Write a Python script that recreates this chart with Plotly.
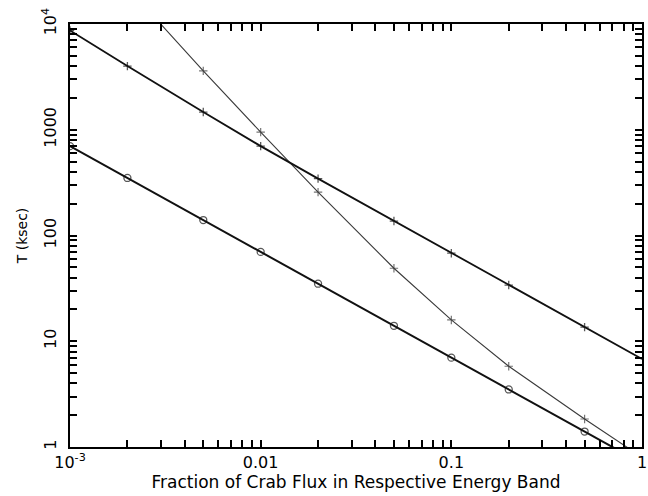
import plotly.graph_objects as go

# Data
frac = [0.001, 0.002, 0.005, 0.01, 0.02, 0.05, 0.1, 0.2, 0.5, 1.0]
t_circle = [700, 350, 140, 70, 35, 14, 7, 3.5, 1.4, 0.7]
t_plus = [8700, 4000, 1470, 700, 345, 137, 68, 34, 13.6, 6.8]
t_steep = [88000, 22000, 3600, 950, 257, 49, 15.9, 5.8, 1.84, 0.8]
marker_on = [1, 1, 1, 1, 1, 1, 1, 1, 1, 0]

x_major = [0.001, 0.01, 0.1, 1]
x_major_text = ["10<sup>-3</sup>", "0.01", "0.1", "1"]
y_major = [1, 10, 100, 1000, 10000]
y_major_text = ["1", "10", "100", "1000", "10<sup>4</sup>"]
x_minor = [m * d for d in [0.001, 0.01, 0.1] for m in range(2, 10)]
y_minor = [m * d for d in [1, 10, 100, 1000] for m in range(2, 10)]

x_tickvals = x_major + x_minor
x_ticktext = x_major_text + [""] * len(x_minor)
y_tickvals = y_major + y_minor
y_ticktext = y_major_text + [""] * len(y_minor)

FONT = "DejaVu Sans, Verdana, sans-serif"

fig = go.Figure()

fig.add_trace(go.Scatter(
    x=frac, y=t_steep, mode="lines+markers",
    line=dict(color="#3a3a3a", width=1.1),
    marker=dict(symbol="cross-thin-open", size=[6 * m for m in marker_on],
                line=dict(color="#3a3a3a", width=1.2)),
))
fig.add_trace(go.Scatter(
    x=frac, y=t_plus, mode="lines+markers",
    line=dict(color="#111111", width=1.8),
    marker=dict(symbol="cross-thin-open", size=[6 * m for m in marker_on],
                line=dict(color="#111111", width=1.3)),
))
fig.add_trace(go.Scatter(
    x=frac, y=t_circle, mode="lines+markers",
    line=dict(color="#111111", width=2),
    marker=dict(symbol="circle-open", size=[7 * m for m in marker_on],
                color="#111111", line=dict(color="#111111", width=1.3)),
))

axis_common = dict(
    type="log", showgrid=False, zeroline=False, automargin=False,
    showline=True, linecolor="black", linewidth=2, mirror="allticks",
    ticks="inside", tickcolor="black", ticklen=7, tickwidth=1.5,
    tickfont=dict(family=FONT, size=16, color="black"),
)

fig.update_layout(
    width=648, height=496,
    margin=dict(l=70, r=6, t=24, b=49),
    paper_bgcolor="white", plot_bgcolor="white",
    showlegend=False,
    xaxis=dict(
        **axis_common, range=[-3, 0], tickmode="array",
        tickvals=x_tickvals, ticktext=x_ticktext,
        title=dict(text="Fraction of Crab Flux in Respective Energy Band",
                   font=dict(family=FONT, size=17, color="black"), standoff=2),
    ),
    yaxis=dict(
        **axis_common, range=[0, 4], tickmode="array",
        tickvals=y_tickvals, ticktext=y_ticktext, tickangle=-90,
        ticklabelstandoff=6,
        title=dict(text="T (ksec)", font=dict(family=FONT, size=14, color="black"),
                   standoff=8),
    ),
)

fig.write_html(
    "out.html",
    config={"displayModeBar": False},
    post_script="document.body.style.margin='0';document.body.style.padding='0';"
                "document.body.style.overflow='hidden';",
)
